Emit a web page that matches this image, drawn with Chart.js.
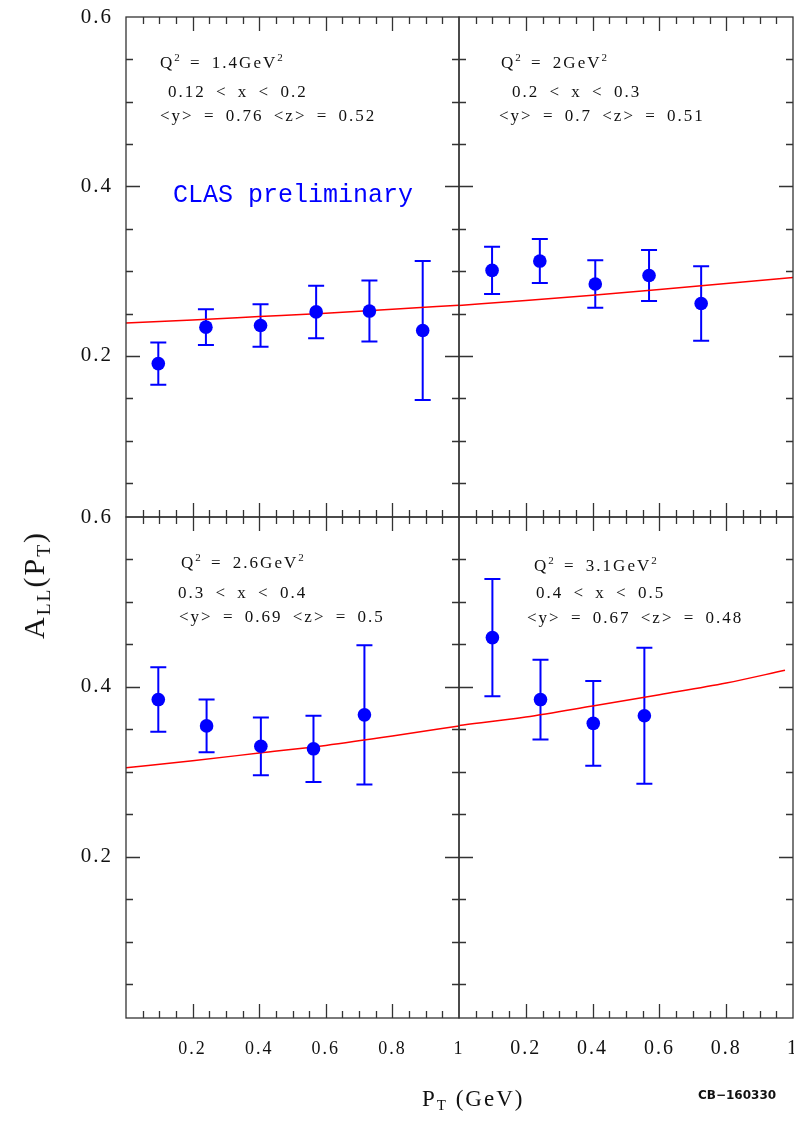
<!DOCTYPE html>
<html>
<head>
<meta charset="utf-8">
<script src="https://cdn.jsdelivr.net/npm/chart.js@4.4.1/dist/chart.umd.min.js"></script>
<style>
  html, body { margin: 0; padding: 0; background: #fff; }
  #page { position: relative; width: 794px; height: 1122px; overflow: hidden;
          font-family: "Liberation Serif", serif; color: #111; }
  canvas { position: absolute; }
  .note { position: absolute; font-size: 17px; line-height: 17px; letter-spacing: 2px; word-spacing: 4px; white-space: nowrap; }
  .note sup { font-size: 11px; position: relative; top: -7px; vertical-align: baseline; letter-spacing: 0; }
  .clas { position: absolute; left: 173px; top: 183px; font-family: "Liberation Mono", monospace;
          font-size: 25px; line-height: 25px; color: #0000ff; white-space: nowrap; }
  .ytitle { position: absolute; left: 36px; top: 585px; font-size: 30px; line-height: 30px; letter-spacing: 2px;
            white-space: nowrap; transform: translate(-50%, -50%) rotate(-90deg); }
  .ytitle sub, .xtitle sub { font-size: 0.65em; position: relative; top: 0.3em; vertical-align: baseline; }
  .xtitle { position: absolute; left: 422px; top: 1087px; font-size: 23px; line-height: 23px; letter-spacing: 2px; white-space: nowrap; }
  .code { position: absolute; left: 698px; top: 1089px; font-family: "DejaVu Sans", sans-serif; font-weight: bold;
          font-size: 12px; line-height: 12px; white-space: nowrap; }
</style>
</head>
<body>
<div id="page">
  <canvas id="c1" width="469" height="527" style="left:0;top:0"></canvas>
  <canvas id="c2" width="345" height="527" style="left:449px;top:0"></canvas>
  <canvas id="c3" width="469" height="615" style="left:0;top:507px"></canvas>
  <canvas id="c4" width="345" height="615" style="left:449px;top:507px"></canvas>

  <div class="note" style="left:160px;top:54px">Q<sup>2</sup> = 1.4GeV<sup>2</sup></div>
  <div class="note" style="left:168px;top:83px">0.12 &lt; x &lt; 0.2</div>
  <div class="note" style="left:160px;top:107px">&lt;y&gt; = 0.76 &lt;z&gt; = 0.52</div>

  <div class="note" style="left:501px;top:54px">Q<sup>2</sup> = 2GeV<sup>2</sup></div>
  <div class="note" style="left:512px;top:83px">0.2 &lt; x &lt; 0.3</div>
  <div class="note" style="left:499px;top:107px">&lt;y&gt; = 0.7 &lt;z&gt; = 0.51</div>

  <div class="note" style="left:181px;top:554px">Q<sup>2</sup> = 2.6GeV<sup>2</sup></div>
  <div class="note" style="left:178px;top:584px">0.3 &lt; x &lt; 0.4</div>
  <div class="note" style="left:179px;top:608px">&lt;y&gt; = 0.69 &lt;z&gt; = 0.5</div>

  <div class="note" style="left:534px;top:557px">Q<sup>2</sup> = 3.1GeV<sup>2</sup></div>
  <div class="note" style="left:536px;top:584px">0.4 &lt; x &lt; 0.5</div>
  <div class="note" style="left:527px;top:609px">&lt;y&gt; = 0.67 &lt;z&gt; = 0.48</div>

  <div class="clas">CLAS preliminary</div>
  <div class="ytitle">A<sub>LL</sub>(P<sub>T</sub>)</div>
  <div class="xtitle">P<sub>T</sub> (GeV)</div>
  <div class="code">CB&minus;160330</div>
</div>

<script>
// axes
const xTickVals = [0.2, 0.4, 0.6, 0.8, 1];
const yTickVals = [0.2, 0.4, 0.6];

// Q2 = 1.4
const ptQ1 = [0.097, 0.240, 0.404, 0.571, 0.731, 0.891];
const allQ1 = [0.191, 0.234, 0.236, 0.252, 0.253, 0.230];
const errQ1 = [0.025, 0.021, 0.025, 0.031, 0.036, 0.082];
// Q2 = 2
const ptQ2 = [0.099, 0.242, 0.408, 0.569, 0.725];
const allQ2 = [0.301, 0.312, 0.285, 0.295, 0.262];
const errQ2 = [0.028, 0.026, 0.028, 0.030, 0.044];
// Q2 = 2.6
const ptQ3 = [0.097, 0.242, 0.405, 0.563, 0.716];
const allQ3 = [0.385, 0.354, 0.330, 0.327, 0.367];
const errQ3 = [0.038, 0.031, 0.034, 0.039, 0.082];
// Q2 = 3.1
const ptQ4 = [0.100, 0.244, 0.402, 0.555];
const allQ4 = [0.458, 0.385, 0.357, 0.366];
const errQ4 = [0.069, 0.047, 0.050, 0.080];

// model curves
const curvePt = [0, 0.2, 0.4, 0.6, 0.8, 1.0];
const curveQ1 = [0.239, 0.2425, 0.2465, 0.2505, 0.255, 0.260];
const curveQ2 = [0.2596, 0.2655, 0.2718, 0.2785, 0.2855, 0.2927];
const curveQ3 = [0.3046, 0.313, 0.322, 0.331, 0.342, 0.354];
const curvePtQ4 = [0, 0.2, 0.4, 0.6, 0.8, 0.976];
const curveQ4 = [0.3546, 0.3644, 0.3774, 0.3908, 0.4045, 0.4195];

const BLUE = '#0000ff';
const RED = '#ff0000';

// box with inward ticks on every side
const framePlugin = {
    id: 'frame',
    afterDatasetsDraw(chart) {
        const { ctx, chartArea: a, scales: { x, y } } = chart;
        ctx.save();
        ctx.strokeStyle = '#333';
        ctx.lineWidth = 1.3;
        ctx.strokeRect(a.left, a.top, a.right - a.left, a.bottom - a.top);
        ctx.beginPath();
        for (let i = 1; i < 20; i++) {
            const px = Math.round(x.getPixelForValue(i * 0.05)) + 0.5;
            const len = i % 4 === 0 ? 14 : 7;
            ctx.moveTo(px, a.bottom); ctx.lineTo(px, a.bottom - len);
            ctx.moveTo(px, a.top); ctx.lineTo(px, a.top + len);
        }
        for (let i = 1; i < 12; i++) {
            const py = Math.round(y.getPixelForValue(i * 0.05)) + 0.5;
            const len = i % 4 === 0 ? 14 : 7;
            ctx.moveTo(a.left, py); ctx.lineTo(a.left + len, py);
            ctx.moveTo(a.right, py); ctx.lineTo(a.right - len, py);
        }
        ctx.stroke();
        ctx.restore();
    }
};

// vertical error bars with caps
const errorBarPlugin = {
    id: 'errorBars',
    beforeDatasetsDraw(chart) {
        const { ctx, scales: { x, y } } = chart;
        chart.data.datasets.forEach(ds => {
            if (!ds.errors) return;
            ctx.save();
            ctx.strokeStyle = ds.backgroundColor;
            ctx.lineWidth = 2;
            ds.data.forEach((p, i) => {
                const px = x.getPixelForValue(p.x);
                const lo = y.getPixelForValue(p.y - ds.errors[i]);
                const hi = y.getPixelForValue(p.y + ds.errors[i]);
                ctx.beginPath();
                ctx.moveTo(px, lo); ctx.lineTo(px, hi);
                ctx.moveTo(px - 8, lo); ctx.lineTo(px + 8, lo);
                ctx.moveTo(px - 8, hi); ctx.lineTo(px + 8, hi);
                ctx.stroke();
            });
            ctx.restore();
        });
    }
};

const spacingPlugin = {
    id: 'spacing',
    beforeDraw(chart) { chart.ctx.letterSpacing = '2px'; }
};

function makePanel(id, pts, vals, errs, cx, cy, opt) {
    const ctx = document.getElementById(id).getContext('2d');
    return new Chart(ctx, {
        data: {
            datasets: [
                {
                    type: 'line',
                    data: cx.map((v, i) => ({ x: v, y: cy[i] })),
                    borderColor: RED,
                    borderWidth: 1.5,
                    pointRadius: 0,
                    cubicInterpolationMode: 'monotone',
                    order: 2
                },
                {
                    type: 'scatter',
                    data: pts.map((v, i) => ({ x: v, y: vals[i] })),
                    errors: errs,
                    backgroundColor: BLUE,
                    borderWidth: 0,
                    pointRadius: 6.8,
                    order: 1
                }
            ]
        },
        options: {
            responsive: false,
            devicePixelRatio: 1,
            animation: false,
            events: [],
            layout: { autoPadding: false, padding: opt.padding },
            plugins: { legend: { display: false }, tooltip: { enabled: false } },
            scales: {
                x: {
                    type: 'linear',
                    position: 'bottom',
                    min: 0,
                    max: 1,
                    display: opt.showX,
                    grid: { display: false },
                    border: { display: false },
                    afterBuildTicks: s => { s.ticks = xTickVals.map(v => ({ value: v })); },
                    afterFit: s => { s.height = opt.showX ? opt.xHeight : 0; s.paddingLeft = 0; s.paddingRight = 0; },
                    ticks: {
                        autoSkip: false,
                        maxRotation: 0,
                        padding: opt.xPad || 12,
                        color: '#111',
                        font: { family: 'Liberation Serif', size: opt.xFont || 18 },
                        callback: v => String(v)
                    }
                },
                y: {
                    type: 'linear',
                    min: 0.01,
                    max: 0.6,
                    display: opt.showY,
                    grid: { display: false },
                    border: { display: false },
                    afterBuildTicks: s => { s.ticks = yTickVals.map(v => ({ value: v })); },
                    afterFit: s => { s.width = opt.showY ? 126 : 0; s.paddingTop = 0; s.paddingBottom = 0; },
                    ticks: {
                        padding: 5,
                        color: '#111',
                        font: { family: 'Liberation Serif', size: 21 },
                        callback: v => String(v)
                    }
                }
            }
        },
        plugins: [spacingPlugin, errorBarPlugin, framePlugin]
    });
}

makePanel('c1', ptQ1, allQ1, errQ1, curvePt, curveQ1,
    { showX: false, showY: true, padding: { top: 17, right: 10, bottom: 10, left: 0 } });
makePanel('c2', ptQ2, allQ2, errQ2, curvePt, curveQ2,
    { showX: false, showY: false, padding: { top: 17, right: 1, bottom: 10, left: 10 } });
makePanel('c3', ptQ3, allQ3, errQ3, curvePt, curveQ3,
    { showX: true, showY: true, xHeight: 104, xFont: 18, xPad: 12, padding: { top: 10, right: 10, bottom: 0, left: 0 } });
makePanel('c4', ptQ4, allQ4, errQ4, curvePtQ4, curveQ4,
    { showX: true, showY: false, xHeight: 104, xFont: 20, xPad: 11, padding: { top: 10, right: 1, bottom: 0, left: 10 } });
</script>
</body>
</html>
